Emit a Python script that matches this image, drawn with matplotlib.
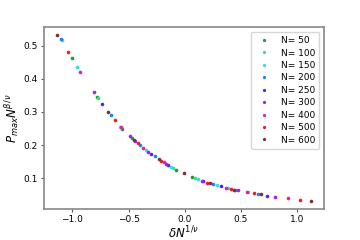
from matplotlib import pyplot as plt

# scaled data
sizes = [50, 100, 150, 200, 250, 300, 400, 500, 600]
colors = ["#1f9a3a", "#2ee87a", "#2ce0e8", "#1f80f0", "#5a1ff0",
          "#a020f0", "#e020a8", "#e82020", "#7b3232"]

x50 = [-1.00, -0.78, -0.56, -0.47, -0.074, 0.06]
y50 = [0.463, 0.345, 0.250, 0.220, 0.124, 0.104]
x100 = [-0.77, -0.104, 0.089]
y100 = [0.342, 0.130, 0.101]
x150 = [-1.09, -0.955, -0.574, -0.345, -0.125, 0.113, 0.283, 0.381, 0.56]
y150 = [0.516, 0.435, 0.255, 0.185, 0.135, 0.098, 0.081, 0.070, 0.058]
x200 = [-1.10, -0.66, -0.40, -0.268, 0.253, 0.45, 0.649]
y200 = [0.519, 0.291, 0.199, 0.166, 0.083, 0.065, 0.052]
x250 = [-0.74, -0.297, -0.149, 0.164, 0.318, 0.732]
y250 = [0.324, 0.172, 0.140, 0.091, 0.077, 0.047]
x300 = [-0.81, -0.49, -0.44, -0.327, -0.167, 0.149, 0.476, 0.80]
y300 = [0.360, 0.228, 0.213, 0.178, 0.143, 0.093, 0.064, 0.043]
x400 = [-0.93, -0.567, -0.375, -0.188, 0.363, 0.55, 0.917]
y400 = [0.420, 0.254, 0.192, 0.148, 0.071, 0.059, 0.039]
x500 = [-1.04, -0.625, -0.417, -0.208, 0.194, 0.41, 0.616, 1.027]
y500 = [0.481, 0.277, 0.205, 0.152, 0.087, 0.068, 0.054, 0.034]
x600 = [-1.14, -0.685, -0.455, -0.229, -0.006, 0.223, 0.44, 0.676, 1.125]
y600 = [0.531, 0.301, 0.216, 0.158, 0.116, 0.085, 0.065, 0.051, 0.032]

xs = [x50, x100, x150, x200, x250, x300, x400, x500, x600]
ys = [y50, y100, y150, y200, y250, y300, y400, y500, y600]

fig = plt.figure(figsize=(3.6, 2.4), dpi=100)
ax = fig.add_axes([0.122, 0.129, 0.778, 0.758])

for n, c, x, y in zip(sizes, colors, xs, ys):
    ax.plot(x, y, "o", color=c, ms=2.6, mec="none", label=f"N= {n}")

ax.set_xticks([-1.0, -0.5, 0.0, 0.5, 1.0])
ax.set_yticks([0.1, 0.2, 0.3, 0.4, 0.5])
ax.tick_params(labelsize=6.5, length=2.5, width=0.8, color="#555", pad=2)
for s in ax.spines.values():
    s.set_color("#888")
    s.set_linewidth(1.2)

ax.set_xlabel(r"$\delta N^{1/\nu}$", fontsize=8.5, labelpad=0)
ax.set_ylabel(r"$P_{max}N^{\beta/\nu}$", fontsize=8.5, labelpad=1)

ax.legend(loc="upper right", fontsize=6.5, labelspacing=0.38,
          handletextpad=0.8, markerscale=0.9, borderpad=0.5)

fig.savefig("out.png", dpi=100)
